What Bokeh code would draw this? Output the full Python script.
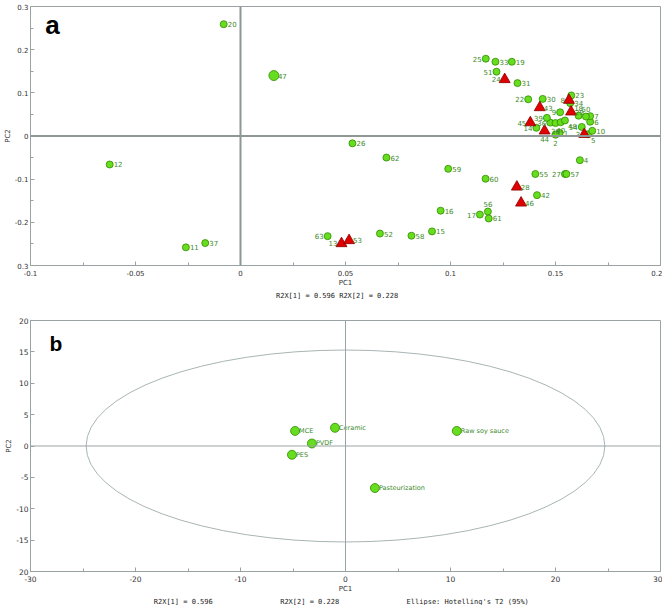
from bokeh.plotting import figure
from bokeh.models import Range1d, FixedTicker, Span, ColumnDataSource, Title
from bokeh.layouts import column
from bokeh.core.properties import value
from bokeh.embed import file_html
from bokeh.resources import INLINE

# ---------------- Panel a: scores of samples ----------------
circ_ids = ["1", "2", "4", "5", "6", "7", "9", "10", "11", "12", "14", "15", "16", "17",
            "18", "19", "20", "22", "23", "25", "26", "27", "30", "31", "33", "34", "36",
            "37", "38", "39", "40", "42", "48", "50", "51", "52", "54", "55", "56", "57",
            "58", "59", "60", "61", "62", "63"]
circ_pc1 = [0.152, 0.150, 0.1616, 0.1655, 0.1665, 0.1665, 0.1522, 0.1675, -0.026, -0.0623,
            0.1409, 0.0912, 0.0953, 0.114, 0.161, 0.1292, -0.008, 0.137, 0.1575, 0.1168,
            0.0533, 0.1545, 0.1439, 0.1319, 0.1214, 0.157, 0.1475, -0.0168, 0.150, 0.1459,
            0.1525, 0.1412, 0.1545, 0.1645, 0.1219, 0.0664, 0.1625, 0.1404, 0.1178, 0.1552,
            0.0814, 0.0989, 0.1167, 0.1182, 0.0695, 0.0415]
circ_pc2 = [0.007, 0.003, -0.056, 0.004, 0.033, 0.046, 0.055, 0.012, -0.258, -0.066,
            0.019, -0.221, -0.173, -0.182, 0.047, 0.172, 0.259, 0.085, 0.094, 0.179,
            -0.017, -0.088, 0.086, 0.1225, 0.172, 0.076, 0.031, -0.248, 0.030, 0.042,
            0.032, -0.137, 0.036, 0.045, 0.149, -0.226, 0.021, -0.088, -0.175, -0.088,
            -0.231, -0.076, -0.099, -0.191, -0.050, -0.232]
circ_pos = ["R", "B", "R", "BR", "R", "R", "L", "R", "R", "R", "L", "R", "R", "L",
            "A", "R", "R", "L", "R", "L", "R", "L", "R", "R", "R", "R", "L",
            "R", "B", "L", "B", "R", "BR", "A", "L", "R", "L", "R", "A", "R",
            "R", "R", "R", "R", "R", "L"]

big_ids = ["47"]
big_pc1 = [0.0159]
big_pc2 = [0.140]
big_pos = ["R"]

tri_ids = ["3", "8", "13", "24", "28", "29", "43", "44", "45", "46", "53"]
tri_pc1 = [0.1637, 0.1564, 0.0481, 0.1258, 0.1316, 0.1574, 0.1425, 0.1448, 0.138, 0.1336, 0.0517]
tri_pc2 = [0.004, 0.083, -0.249, 0.131, -0.118, 0.056, 0.066, 0.012, 0.031, -0.155, -0.242]
tri_pos = ["L", "L", "L", "L", "R", "R", "R", "B", "L", "R", "R"]

a_xticks = [-0.1, -0.05, 0, 0.05, 0.1, 0.15, 0.2]
a_xlabels = ["-0.1", "-0.05", "0", "0.05", "0.1", "0.15", "0.2"]
a_xminor = [-0.075, -0.025, 0.025, 0.075, 0.125, 0.175]
a_yticks = [-0.3, -0.2, -0.1, 0, 0.1, 0.2, 0.3]
a_ylabels = ["0.3", "-0.2", "-0.1", "0", "0.1", "0.2", "0.3"]
a_yminor = [-0.25, -0.15, -0.05, 0.05, 0.15, 0.25]
a_footer = "R2X[1] = 0.596 R2X[2] = 0.228"

# ---------------- Panel b: scores of treatments ----------------
b_names = ["MCE", "PVDF", "PES", "Ceramic", "Raw soy sauce", "Pasteurization"]
b_pc1 = [-4.8, -3.2, -5.1, -1.0, 10.6, 2.8]
b_pc2 = [2.4, 0.4, -1.4, 2.9, 2.4, -6.7]
ellipse_semi_pc1 = 24.7
ellipse_semi_pc2 = 15.3

b_xticks = [-30, -20, -10, 0, 10, 20, 30]
b_xlabels = ["-30", "-20", "-10", "0", "10", "20", "30"]
b_xminor = [-25, -15, -5, 5, 15, 25]
b_yticks = [-20, -15, -10, -5, 0, 5, 10, 15, 20]
b_ylabels = ["20", "-15", "-10", "-5", "0", "5", "10", "15", "20"]
b_footers = ["R2X[1] = 0.596", "R2X[2] = 0.228", "Ellipse: Hotelling's T2 (95%)"]

# ---------------- styles ----------------
AX = "#9aa3a3"
GREEN_FILL = "#66dd1e"
GREEN_LINE = "#2e8c00"
LABEL_GREEN = "#3d8a2a"
RED_FILL = "#e00000"
RED_LINE = "#8c0000"
FONT = "DejaVu Sans"
MONO = "DejaVu Sans Mono"
NB = "\u00a0"

OFFS = {"R": (4, 0, "left", "middle"), "L": (-4, 0, "right", "middle"),
        "B": (0, 5, "center", "top"), "A": (0, -5, "center", "bottom"),
        "BR": (3, 3, "left", "top")}


def label_source(ids, xs, ys, pos):
    return ColumnDataSource(dict(
        x=xs, y=ys, t=ids,
        xo=[OFFS[p][0] for p in pos], yo=[OFFS[p][1] for p in pos],
        al=[OFFS[p][2] for p in pos], bl=[OFFS[p][3] for p in pos]))


def style(p, xticks, xlabels, xminor, yticks, ylabels, yminor, tick_size):
    p.xgrid.visible = False
    p.ygrid.visible = False
    p.outline_line_color = AX
    p.background_fill_color = "white"
    p.border_fill_color = "white"
    for ax in (p.xaxis[0], p.yaxis[0]):
        ax.axis_line_color = AX
        ax.major_tick_line_color = AX
        ax.minor_tick_line_color = AX
        ax.major_tick_in = 4
        ax.major_tick_out = 0
        ax.minor_tick_in = 3
        ax.minor_tick_out = 0
        ax.major_label_text_font = FONT
        ax.major_label_text_font_size = tick_size
        ax.major_label_text_color = "#333333"
        ax.axis_label_text_font = FONT
        ax.axis_label_text_font_size = "7px"
        ax.axis_label_text_font_style = "normal"
        ax.axis_label_text_color = "#333333"
        ax.axis_label_standoff = 0
    p.xaxis[0].major_label_standoff = 4
    p.yaxis[0].major_label_standoff = 2
    p.xaxis[0].ticker = FixedTicker(ticks=xticks, minor_ticks=xminor)
    p.yaxis[0].ticker = FixedTicker(ticks=yticks, minor_ticks=yminor)
    p.xaxis[0].major_label_overrides = dict(zip(xticks, xlabels))
    p.yaxis[0].major_label_overrides = dict(zip(yticks, ylabels))
    p.xaxis[0].axis_label = "PC1"
    p.yaxis[0].axis_label = "PC2"


def footer(p, text):
    p.add_layout(Title(text=text, align="center", text_font=MONO, text_font_size="7px",
                       text_font_style="normal", text_color="#222222", standoff=0), "below")


# ---------------- figure a ----------------
pa = figure(width=662, height=299, output_backend="svg", toolbar_location=None,
            x_range=Range1d(a_xticks[0], a_xticks[-1]), y_range=Range1d(a_yticks[0], a_yticks[-1]),
            min_border_left=22, min_border_right=2, min_border_top=6, min_border_bottom=30)
style(pa, a_xticks, a_xlabels, a_xminor, a_yticks, a_ylabels, a_yminor, "7px")
pa.add_layout(Span(location=0, dimension="width", line_color="#8e9696", line_width=2))
pa.add_layout(Span(location=0, dimension="height", line_color="#8e9696", line_width=2))

pa.scatter(circ_pc1, circ_pc2, marker="circle", size=7, fill_color=GREEN_FILL,
           line_color=GREEN_LINE, line_width=0.8)
pa.scatter(big_pc1, big_pc2, marker="circle", size=10, fill_color=GREEN_FILL,
           line_color=GREEN_LINE, line_width=0.8)
pa.scatter(tri_pc1, tri_pc2, marker="triangle", size=11, fill_color=RED_FILL,
           line_color=RED_LINE, line_width=0.8)
for ids, xs, ys, pos in ((circ_ids, circ_pc1, circ_pc2, circ_pos),
                         (big_ids, big_pc1, big_pc2, big_pos),
                         (tri_ids, tri_pc1, tri_pc2, tri_pos)):
    src = label_source(ids, xs, ys, pos)
    pa.text("x", "y", text="t", x_offset="xo", y_offset="yo", text_align="al",
            text_baseline="bl", source=src, text_font=value(FONT),
            text_font_size="7px", text_color=LABEL_GREEN)
pa.text(x=[-0.093], y=[0.257], text=["a"], text_font=value("Liberation Sans"),
        text_font_style="bold", text_font_size="26px", text_color="black",
        text_baseline="middle", text_align="left")
footer(pa, a_footer + NB * 4)

# ---------------- figure b ----------------
pb = figure(width=662, height=306, output_backend="svg", toolbar_location=None,
            x_range=Range1d(b_xticks[0], b_xticks[-1]), y_range=Range1d(b_yticks[0], b_yticks[-1]),
            min_border_left=22, min_border_right=2, min_border_top=21, min_border_bottom=30)
style(pb, b_xticks, b_xlabels, b_xminor, b_yticks, b_ylabels, [], "7.5px")
pb.add_layout(Span(location=0, dimension="width", line_color=AX, line_width=1))
pb.add_layout(Span(location=0, dimension="height", line_color=AX, line_width=1))
pb.ellipse(x=[0], y=[0], width=[2 * ellipse_semi_pc1], height=[2 * ellipse_semi_pc2],
           fill_color=None, line_color="#a9b4b4", line_width=1)
pb.scatter(b_pc1, b_pc2, marker="circle", size=9, fill_color=GREEN_FILL,
           line_color=GREEN_LINE, line_width=0.8)
srcb = label_source(b_names, b_pc1, b_pc2, ["R"] * len(b_names))
pb.text("x", "y", text="t", x_offset="xo", y_offset="yo", text_align="al",
        text_baseline="bl", source=srcb, text_font=value(FONT),
        text_font_size="6.5px", text_color=LABEL_GREEN)
pb.text(x=[-28.2], y=[16.3], text=["b"], text_font=value("Liberation Sans"),
        text_font_style="bold", text_font_size="21px", text_color="black",
        text_baseline="middle", text_align="left")
footer(pb, (NB * 16).join(b_footers) + NB * 2)

layout = column(pa, pb, spacing=0)
open("out.html", "w").write(file_html(layout, INLINE))
